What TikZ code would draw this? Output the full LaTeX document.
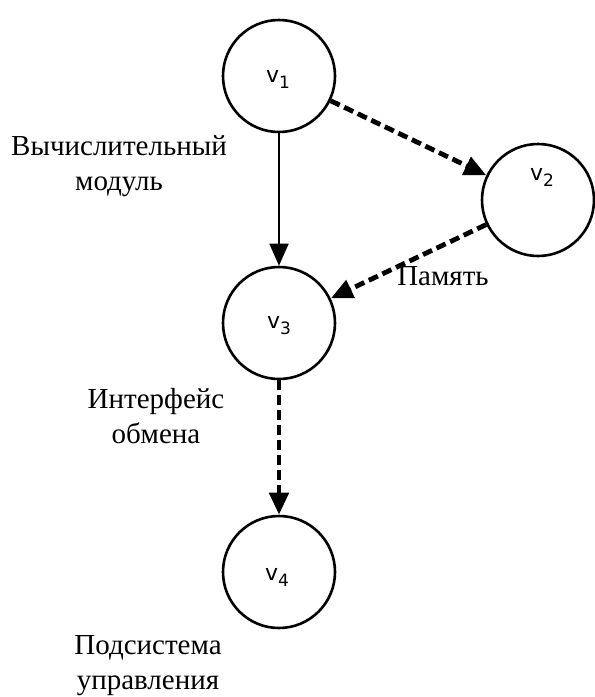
\documentclass[tikz,border=0pt]{standalone}
\usepackage{fontspec}
\setmainfont{Liberation Serif}
\newfontfamily\vfont{DejaVu Sans}
\usetikzlibrary{arrows.meta}
\newcommand{\vsub}[1]{v\raisebox{-6pt}{\fontsize{17}{20}\selectfont #1}}
\tikzset{
  vert/.style={circle, draw=black, line width=2.6pt, minimum size=112pt, inner sep=0pt},
  vlab/.style={font=\vfont\fontsize{22}{24}\selectfont, inner sep=0pt},
  lab/.style={font=\fontsize{29}{35}\selectfont, align=center, inner sep=0pt},
  tip/.style={-{Triangle[length=22pt,width=19pt]}},
  solidarr/.style={tip, line width=1.8pt},
  dasharr/.style={tip, line width=4.8pt, dash pattern=on 10pt off 5pt}
}
\begin{document}
\begin{tikzpicture}[x=1pt,y=-1pt]
\useasboundingbox (0,0) rectangle (595,697);
\node[vert] (v1) at (279,76) {};
\node[vert] (v2) at (538,200) {};
\node[vert] (v3) at (279,323) {};
\node[vert] (v4) at (279,572) {};
\node[vlab] (l1) at (278,79) {\vsub{1}};
\node[vlab] (l2) at (542,177) {\vsub{2}};
\node[vlab] (l3) at (279,326) {\vsub{3}};
\node[vlab] (l4) at (277,577) {\vsub{4}};
\draw[solidarr] (v1) -- (v3);
\draw[dasharr] (v1) -- (v2);
\draw[dasharr] (v2) -- (v3);
\draw[dasharr] (v3) -- (v4);
\node[lab] (t1) at (119,166) {Вычислительный\\модуль};
\node[lab] (t2) at (443,276) {Память};
\node[lab] (t3) at (156,416) {Интерфейс\\обмена};
\node[lab] (t4) at (148,666) {Подсистема\\управления};
\end{tikzpicture}
\end{document}
